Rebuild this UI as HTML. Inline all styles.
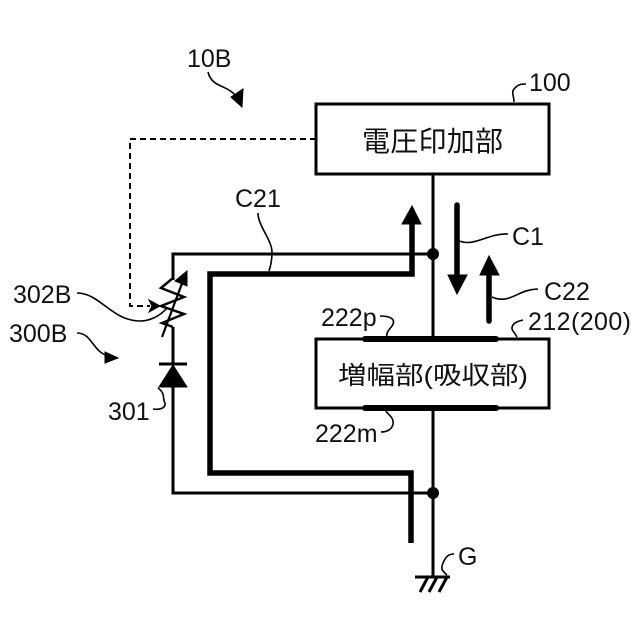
<!DOCTYPE html>
<html><head><meta charset="utf-8"><style>
html,body{margin:0;padding:0;background:#fff}
svg{display:block}
text{font-family:"Liberation Sans","Noto Sans CJK JP",sans-serif;font-size:25px;fill:#111}
</style></head><body>
<svg width="640" height="640" viewBox="0 0 640 640" xmlns="http://www.w3.org/2000/svg">
<g fill="none" stroke="#000" stroke-width="3">
<rect x="316" y="104" width="233" height="70"/>
<rect x="316" y="339" width="233" height="69"/>
<path d="M433 174V339M433 408V577"/>
<path d="M433 254H173V280M173 327V364M173 387V493H433"/>
<path d="M415 577H450"/>
<path d="M428 577L420 592M437 577L429 592M447 577L439 592"/>
</g>
<g fill="none" stroke="#000" stroke-width="5.5">
<path d="M412 224V274H210V473H411V543" stroke-linejoin="miter"/>
<path d="M457 205V276" stroke-linecap="round"/>
<path d="M489 275V321" stroke-linecap="round"/>
<path d="M365 339H496" stroke-width="6" stroke-linecap="round"/>
<path d="M365 408H496" stroke-width="6" stroke-linecap="round"/>
</g>
<path d="M412 206L402 224H421Z M457 294L448 275H467Z M489 256L480 275H499Z" stroke="#000" stroke-width="1"/>
<circle cx="433" cy="254" r="6"/>
<circle cx="433" cy="493" r="6"/>
<path d="M316 139H130V306H150" fill="none" stroke="#000" stroke-width="2" stroke-dasharray="6 4"/>
<path d="M160 306L149 300L152 306L149 312Z" stroke="#000"/>
<path d="M173 278L161 288L184 297L161 306L184 314L162 323L173 327" fill="none" stroke="#000" stroke-width="2.5"/>
<path d="M162 337L184 278" fill="none" stroke="#000" stroke-width="2.2"/>
<path d="M187 271L175 281L187 286Z" stroke="#000"/>
<path d="M159 364H187" fill="none" stroke="#000" stroke-width="3"/>
<path d="M173 365L159 387H187Z" stroke="#000"/>
<g fill="none" stroke="#000" stroke-width="1.6">
<path d="M514 102C514 94 510 92 516 87C519 84 522 84 526 84"/>
<path d="M77 293C100 293 112 321 140 321C150 321 160 316 167 308"/>
<path d="M77 333C92 333 92 351 108 356"/>
<path d="M208 72C212 88 226 84 236 96"/>
<path d="M258 213C258 226 272 240 272 252C272 260 271 265 269 271"/>
<path d="M459 241C475 247 488 233 508 234"/>
<path d="M492 297C510 305 518 289 538 289"/>
<path d="M517 337C514 331 510 330 513 325C515 322 519 321 523 320"/>
<path d="M380 316C392 316 396 320 392 326C388 331 386 333 387 338"/>
<path d="M386 411C388 415 394 417 393 424C392 430 386 432 381 432"/>
<path d="M158 388C166 394 162 398 165 403C166 408 160 410 153 409"/>
<path d="M447 575C441 570 441 568 443 563C446 556 449 554 454 554"/>
</g>
<path d="M242 107L231 97L243 89Z M118 358L105 352L105 363Z" stroke="#000" stroke-width="1"/>
<text x="187" y="67">10B</text>
<text x="529" y="91">100</text>
<text x="362" y="151" style="font-size:28px" textLength="141" lengthAdjust="spacing">電圧印加部</text>
<text x="235" y="207">C21</text>
<text x="512" y="245">C1</text>
<text x="544" y="300">C22</text>
<text x="13" y="303">302B</text>
<text x="9" y="342">300B</text>
<text x="321" y="326">222p</text>
<text x="528" y="330" textLength="103" lengthAdjust="spacing">212(200)</text>
<text x="338" y="384" style="font-size:25px" textLength="190" lengthAdjust="spacingAndGlyphs">増幅部(吸収部)</text>
<text x="108" y="420">301</text>
<text x="315" y="442">222m</text>
<text x="458" y="565">G</text>
</svg>
</body></html>
